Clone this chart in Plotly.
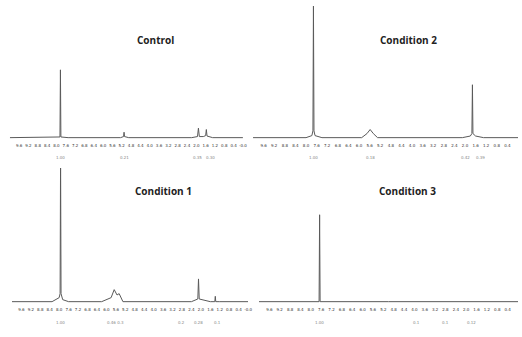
import plotly.graph_objects as go

# Chemical shift (ppm) and intensity for each spectrum
control_ppm = [10.0, 8.05, 7.85, 7.83, 7.81, 7.50, 5.25, 5.12, 5.10, 5.08, 4.9, 2.2, 1.95, 1.91, 1.87, 1.70, 1.60, 1.57, 1.54, 1.3, 0.0]
control_int = [0.0, 0.0, 0.5, 50.0, 0.5, 0.0, 0.0, 0.8, 4.0, 0.8, 0.0, 0.0, 0.8, 7.0, 0.8, 0.8, 1.5, 6.0, 1.2, 0.0, 0.0]

cond2_ppm = [10.0, 8.0, 7.78, 7.74, 7.72, 7.70, 7.66, 7.4, 5.9, 5.7, 5.58, 5.46, 5.3, 2.1, 1.80, 1.74, 1.72, 1.70, 1.60, 1.3, 0.0]
cond2_int = [0.0, 0.0, 1.5, 5.0, 97.0, 5.0, 1.5, 0.0, 0.0, 3.0, 6.0, 3.0, 0.0, 0.0, 1.2, 3.0, 39.0, 3.0, 1.2, 0.0, 0.0]

cond1_ppm = [10.0, 8.3, 8.0, 7.96, 7.94, 7.92, 7.85, 7.6, 6.2, 5.8, 5.67, 5.55, 5.46, 5.3, 2.4, 2.13, 2.10, 2.07, 1.6, 1.41, 1.39, 1.37, 1.2, 0.0]
cond1_int = [0.0, 0.0, 3.0, 6.0, 110.0, 6.0, 1.5, 0.0, 0.0, 3.0, 9.0, 5.0, 6.0, 0.0, 0.0, 2.0, 17.0, 2.0, 0.0, 0.0, 4.0, 0.0, 0.0, 0.0]

cond3_ppm = [10.0, 7.68, 7.66, 7.64, 5.0, 1.60, 1.57, 1.54, 0.0]
cond3_int = [0.0, 0.0, 65.0, 0.0, 0.0, 0.0, 0.5, 0.0, 0.0]

# Integral labels printed under the axis (ppm position, text)
control_integrals = [(7.83, "1.00"), (5.10, "0.21"), (1.95, "0.35"), (1.40, "0.30")]
cond2_integrals = [(7.72, "1.00"), (5.58, "0.18"), (2.00, "0.42"), (1.40, "0.39")]
cond1_integrals = [(7.94, "1.00"), (5.60, "0.46 0.3"), (2.80, "0.2"), (2.10, "0.28"), (1.30, "0.1")]
cond3_integrals = [(7.66, "1.00"), (3.90, "0.1"), (2.80, "0.1"), (1.80, "0.12")]

titles = ["Control", "Condition 2", "Condition 1", "Condition 3"]
spectra = [(control_ppm, control_int), (cond2_ppm, cond2_int),
           (cond1_ppm, cond1_int), (cond3_ppm, cond3_int)]
integrals = [control_integrals, cond2_integrals, cond1_integrals, cond3_integrals]

# Axis placement (paper fractions) for the 2x2 grid
x_domains = [[0.019, 0.469], [0.4885, 1.0], [0.023, 0.479], [0.5, 1.0]]
y_domains = [[0.5875, 0.994], [0.5875, 0.994], [0.1009, 0.5015], [0.1009, 0.5015]]
title_pos = [(157 / 522, 1 - 40 / 337), (412 / 522, 1 - 40 / 337),
             (165 / 522, 1 - 191 / 337), (411 / 522, 1 - 191 / 337)]
integral_y = [1 - 157 / 337, 1 - 157 / 337, 1 - 322 / 337, 1 - 322 / 337]

fig = go.Figure()
layout = dict(
    width=522, height=337,
    margin=dict(l=0, r=0, t=0, b=0),
    paper_bgcolor="white", plot_bgcolor="white",
    showlegend=False,
    annotations=[],
)

tick_vals = [round(9.6 - 0.4 * i, 1) for i in range(25)]

for i, ((ppm, inten), title) in enumerate(zip(spectra, titles)):
    n = "" if i == 0 else str(i + 1)
    fig.add_trace(go.Scatter(
        x=ppm, y=inten, mode="lines",
        line=dict(color="#5a5a5a", width=1),
        xaxis="x" + n, yaxis="y" + n, cliponaxis=True,
    ))
    layout["xaxis" + n] = dict(
        domain=x_domains[i], range=[10, 0], anchor="y" + n,
        showgrid=False, zeroline=False, showline=False,
        tickmode="array", tickvals=tick_vals,
        ticktext=[f"{v:.1f}" for v in tick_vals],
        tickfont=dict(size=4, color="#333333", family="DejaVu Sans"),
        ticks="", tickangle=0, ticklabelstandoff=3,
    )
    layout["yaxis" + n] = dict(
        domain=y_domains[i], range=[-1, 100], anchor="x" + n,
        visible=False,
    )
    layout["annotations"].append(dict(
        text="<b>" + title + "</b>", x=title_pos[i][0], y=title_pos[i][1],
        xref="paper", yref="paper", showarrow=False,
        font=dict(size=10, color="#222222", family="Open Sans"),
        xanchor="center", yanchor="middle",
    ))
    for pos, label in integrals[i]:
        layout["annotations"].append(dict(
            text=label, x=pos, y=integral_y[i],
            xref="x" + n, yref="paper", showarrow=False,
            font=dict(size=4, color="#888888", family="DejaVu Sans"),
            xanchor="center", yanchor="middle",
        ))

fig.update_layout(**layout)
fig.write_html("out.html")
